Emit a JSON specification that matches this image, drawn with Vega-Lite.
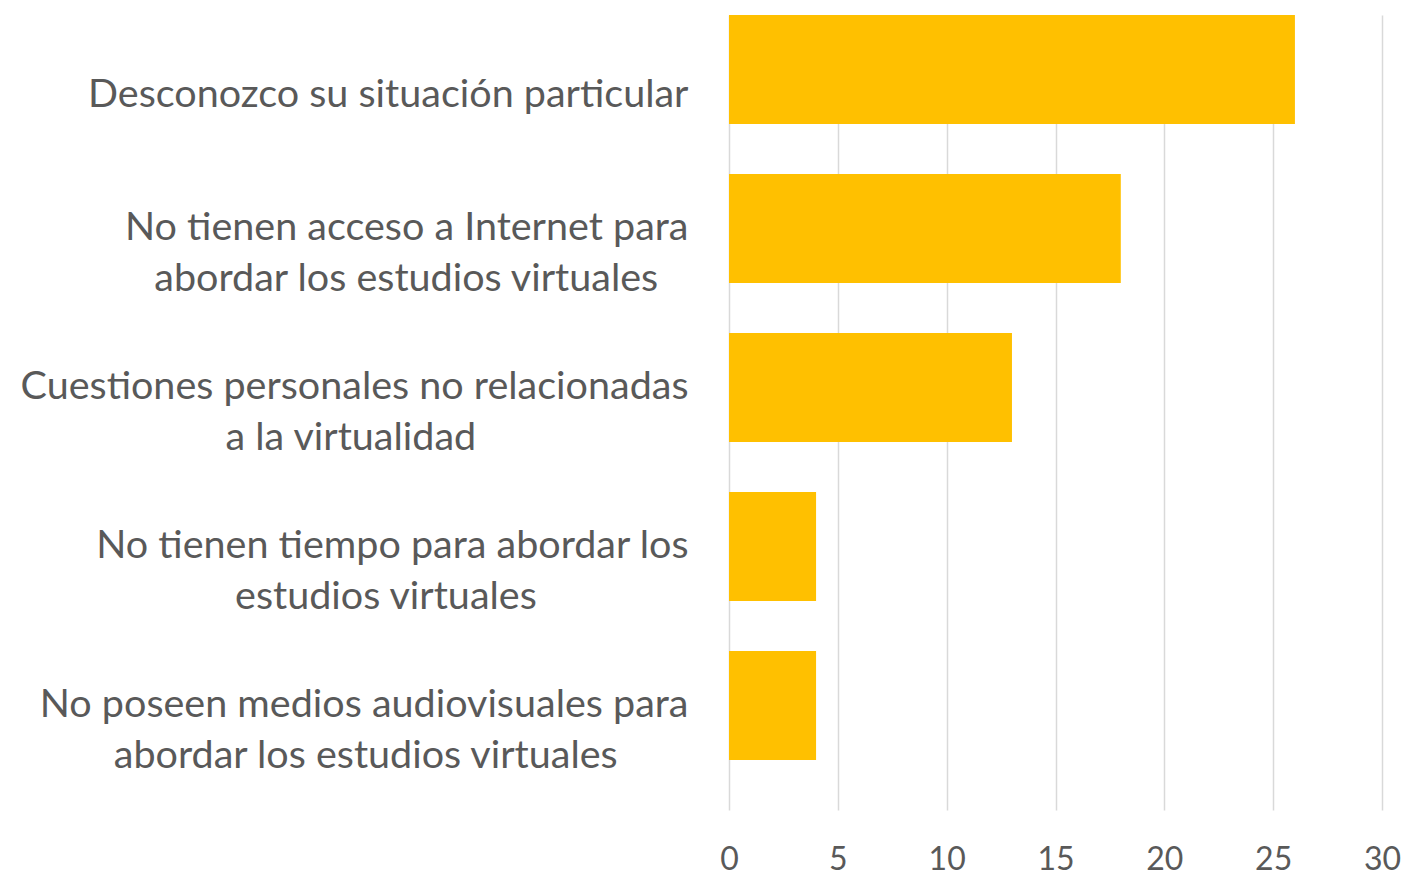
{
  "$schema": "https://vega.github.io/schema/vega-lite/v6.json",
  "autosize": "none",
  "width": 653,
  "height": 795,
  "padding": {"left": 729, "top": 15, "right": 22, "bottom": 62},
  "background": "white",
  "config": {"view": {"stroke": null}, "font": "Lato"},
  "data": {"values": [
    {"motivo": "Desconozco su situación particular", "cantidad": 26},
    {"motivo": "No tienen acceso a Internet para|abordar los estudios virtuales\u00a0\u00a0\u00a0\u200b", "cantidad": 18},
    {"motivo": "Cuestiones personales no relacionadas|a la virtualidad\u00a0\u00a0\u00a0\u00a0\u00a0\u00a0\u00a0\u00a0\u00a0\u00a0\u00a0\u00a0\u00a0\u00a0\u00a0\u00a0\u00a0\u00a0\u00a0\u00a0\u00a0\u200b", "cantidad": 13},
    {"motivo": "No tienen tiempo para abordar los|estudios virtuales\u00a0\u00a0\u00a0\u00a0\u00a0\u00a0\u00a0\u00a0\u00a0\u00a0\u00a0\u00a0\u00a0\u00a0\u00a0\u200b", "cantidad": 4},
    {"motivo": "No poseen medios audiovisuales para|abordar los estudios virtuales\u00a0\u00a0\u00a0\u00a0\u00a0\u00a0\u00a0\u200b", "cantidad": 4}
  ]},
  "mark": {"type": "bar", "color": "#FFC000", "height": {"band": 0.686}, "yOffset": -25},
  "encoding": {
    "y": {
      "field": "motivo", "type": "nominal", "sort": null,
      "scale": {"paddingInner": 0, "paddingOuter": 0},
      "axis": {
        "title": null, "domain": false, "ticks": false, "grid": false,
        "labelFontSize": 39.5, "labelColor": "#595959", "labelPadding": 41,
        "labelLimit": 0, "labelLineHeight": 51, "labelBaseline": "middle",
        "labelOffset": {"expr": "indexof(datum.value, '|') >= 0 ? -25.5 : 0"},
        "labelExpr": "split(datum.value, '|')"
      }
    },
    "x": {
      "field": "cantidad", "type": "quantitative",
      "scale": {"domain": [0, 30], "nice": false},
      "axis": {
        "title": null, "domain": false, "ticks": false, "grid": true,
        "gridColor": "#D9D9D9", "gridWidth": 1.5,
        "values": [0, 5, 10, 15, 20, 25, 30],
        "labelFontSize": 32, "labelColor": "#595959", "labelPadding": 34,
        "labelFlush": false
      }
    }
  }
}
